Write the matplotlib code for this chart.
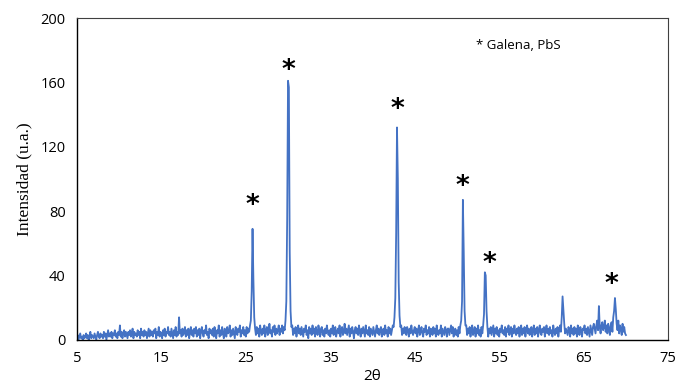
import numpy as np
import matplotlib.pyplot as plt

# Difractograma (paso de 0.1 grados, de 5 a 70)
theta_inicio = 5.0
theta_fin = 70.0
intensidad = [
    1, 3, 0, 2, 4, 1, 2, 0, 3, 1,       # 5
    2, 4, 1, 3, 0, 2, 5, 1, 3, 2,       # 6
    1, 4, 2, 0, 3, 5, 2, 1, 4, 2,       # 7
    3, 1, 5, 2, 4, 0, 3, 6, 2, 4,       # 8
    2, 5, 1, 4, 3, 6, 2, 4, 1, 5,       # 9
    3, 9, 2, 5, 1, 4, 6, 2, 5, 3,       # 10
    1, 5, 3, 6, 2, 4, 7, 1, 5, 3,       # 11
    4, 2, 6, 3, 5, 1, 7, 3, 5, 2,       # 12
    6, 3, 5, 1, 4, 7, 2, 6, 3, 5,       # 13
    2, 6, 4, 7, 1, 5, 3, 8, 2, 5,       # 14
    4, 1, 6, 3, 7, 2, 5, 4, 8, 3,       # 15
    5, 2, 7, 4, 1, 6, 3, 8, 2, 5,       # 16
    3, 14, 4, 6, 2, 7, 3, 5, 8, 2,      # 17
    6, 3, 7, 1, 5, 8, 3, 6, 2, 7,       # 18
    4, 8, 2, 6, 3, 7, 1, 5, 8, 4,       # 19
    2, 6, 4, 9, 3, 5, 1, 7, 4, 6,       # 20
    3, 7, 2, 8, 5, 1, 6, 4, 9, 2,       # 21
    6, 3, 8, 4, 1, 7, 5, 2, 8, 4,       # 22
    5, 9, 2, 6, 3, 7, 4, 1, 8, 5,       # 23
    3, 7, 5, 9, 2, 6, 4, 8, 3, 6,       # 24
    2, 8, 4, 7, 5, 9, 12, 30, 69, 38,   # 25
    14, 7, 3, 8, 4, 7, 2, 9, 5, 3,      # 26
    7, 4, 9, 2, 6, 8, 3, 5, 10, 4,      # 27
    6, 2, 8, 5, 9, 3, 7, 4, 6, 9,       # 28
    3, 7, 5, 9, 4, 8, 6, 12, 24, 75,    # 29
    161, 157, 55, 18, 8, 9, 3, 7, 4, 8, # 30
    2, 6, 9, 4, 7, 3, 8, 5, 2, 7,       # 31
    5, 9, 3, 6, 1, 8, 4, 7, 3, 9,       # 32
    4, 7, 2, 8, 5, 3, 9, 6, 2, 7,       # 33
    8, 3, 6, 2, 7, 4, 9, 5, 3, 6,       # 34
    2, 7, 4, 9, 3, 6, 8, 2, 5, 7,       # 35
    4, 9, 2, 6, 8, 3, 5, 10, 4, 7,      # 36
    3, 6, 9, 2, 7, 4, 8, 5, 1, 6,       # 37
    8, 4, 7, 3, 9, 5, 2, 7, 4, 8,       # 38
    5, 2, 9, 4, 6, 3, 8, 2, 7, 5,       # 39
    3, 8, 5, 2, 6, 9, 4, 7, 3, 6,       # 40
    8, 2, 5, 7, 3, 9, 4, 6, 2, 8,       # 41
    4, 7, 3, 6, 9, 8, 14, 26, 66, 132,  # 42
    100, 36, 15, 8, 9, 3, 7, 4, 8, 5,   # 43
    3, 8, 6, 2, 7, 4, 9, 5, 3, 6,       # 44
    8, 4, 7, 2, 6, 9, 3, 5, 8, 4,       # 45
    2, 7, 5, 9, 3, 6, 4, 8, 2, 7,       # 46
    6, 3, 8, 4, 7, 2, 9, 5, 3, 6,       # 47
    4, 9, 2, 7, 5, 3, 8, 6, 2, 7,       # 48
    7, 3, 6, 9, 4, 8, 2, 5, 7, 3,       # 49
    6, 2, 8, 4, 9, 12, 24, 87, 55, 18,  # 50
    9, 9, 3, 7, 4, 8, 2, 6, 9, 3,       # 51
    5, 8, 2, 7, 4, 9, 3, 6, 2, 8,       # 52
    4, 9, 16, 42, 40, 18, 8, 2, 7, 4,   # 53
    8, 3, 6, 9, 2, 7, 4, 8, 3, 6,       # 54
    2, 7, 5, 9, 4, 6, 3, 8, 2, 7,       # 55
    5, 9, 3, 6, 8, 2, 7, 4, 9, 5,       # 56
    3, 7, 4, 8, 2, 6, 9, 3, 7, 4,       # 57
    8, 2, 6, 9, 4, 7, 3, 5, 8, 2,       # 58
    6, 9, 3, 7, 4, 8, 2, 6, 9, 4,       # 59
    3, 7, 5, 8, 2, 6, 9, 4, 7, 3,       # 60
    8, 4, 6, 2, 9, 5, 3, 7, 4, 8,       # 61
    2, 6, 9, 5, 14, 27, 18, 10, 4, 7,   # 62
    5, 3, 8, 6, 2, 9, 4, 7, 3, 8,       # 63
    4, 7, 2, 9, 5, 3, 8, 6, 2, 7,       # 64
    6, 9, 4, 7, 3, 8, 5, 2, 9, 6,       # 65
    3, 8, 10, 7, 4, 9, 12, 6, 21, 8,    # 66
    4, 9, 11, 6, 8, 12, 5, 9, 4, 10,    # 67
    7, 3, 9, 11, 5, 14, 18, 26, 19, 10, # 68
    6, 12, 4, 9, 7, 3, 10, 5, 8, 4,     # 69
    3,                                  # 70
]

# picos marcados con asterisco (galena)
picos_x = [25.8, 30.0, 42.9, 50.7, 53.8, 68.3]
picos_y = [83, 167, 143, 95, 47, 34]

x_ticks = [5, 15, 25, 35, 45, 55, 65, 75]
y_ticks = [0, 40, 80, 120, 160, 200]

two_theta = np.linspace(theta_inicio, theta_fin, len(intensidad))

fig = plt.figure(figsize=(6.86, 3.92), dpi=100)
ax = fig.add_axes([0.112, 0.133, 0.862, 0.821])

ax.plot(two_theta, intensidad, color='#4472C4', linewidth=1.3)

for px, py in zip(picos_x, picos_y):
    ax.text(px, py, '*', fontsize=19, fontweight='bold', ha='center', va='center',
            family='DejaVu Sans')

ax.text(52.3, 183, '* Galena, PbS', fontsize=9.5, family='Open Sans', va='center')

ax.set_xlim(5, 75)
ax.set_ylim(0, 200)
ax.set_xticks(x_ticks)
ax.set_yticks(y_ticks)
ax.tick_params(length=0, labelsize=10.5, pad=8)
for lbl in ax.get_xticklabels() + ax.get_yticklabels():
    lbl.set_family('Open Sans')

ax.set_xlabel('2θ', fontsize=11, family='Open Sans', labelpad=2)
ax.set_ylabel('Intensidad (u.a.)', fontsize=12.5, family='Liberation Serif', labelpad=6)

for side in ['top', 'right']:
    ax.spines[side].set_color('#404040')
    ax.spines[side].set_linewidth(0.8)
for side in ['left', 'bottom']:
    ax.spines[side].set_color('black')
    ax.spines[side].set_linewidth(1.0)

plt.savefig('out.png', dpi=100)
